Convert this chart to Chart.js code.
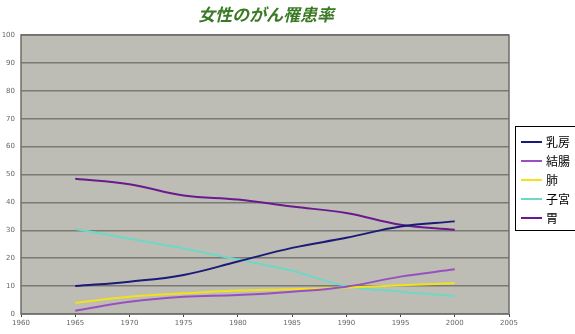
<!DOCTYPE html>
<html>
<head>
<meta charset="utf-8">
<script src="https://cdn.jsdelivr.net/npm/chart.js@4"></script>
<style>
  html, body { margin: 0; padding: 0; background: #fff; }
  #wrap { width: 575px; height: 334px; position: relative; }
</style>
</head>
<body>
<div id="wrap"><canvas id="chart"></canvas></div>
<script>
// === chart data ===
const chartTitle = '女性のがん罹患率';
const years = ['1960', '1965', '1970', '1975', '1980', '1985', '1990', '1995', '2000', '2005'];
const yTicks = [0, 10, 20, 30, 40, 50, 60, 70, 80, 90, 100];

// values per year, 1960 and 2005 have no data
const breast  = [null, 10, 11.6, 14, 18.8, 23.7, 27.3, 31.4, 33.2, null];
const colon   = [null, 1.2, 4.4, 6.2, 6.8, 8, 9.8, 13.4, 16, null];
const lung    = [null, 4, 6.2, 7.4, 8.4, 8.9, 9.5, 10.3, 11, null];
const uterus  = [null, 30.5, 27, 23.5, 19.5, 15.5, 10, 8, 6.5, null];
const stomach = [null, 48.5, 46.5, 42.5, 41, 38.5, 36.2, 32, 30.2, null];

const seriesNames = ['乳房', '結腸', '肺', '子宮', '胃'];
const seriesColors = ['#1a1a7a', '#9a4fc0', '#f2e21a', '#6ed8c4', '#6a1a8e'];
const seriesValues = [breast, colon, lung, uterus, stomach];

// --- plugins: plot background, title, legend box ---
const plotBackground = {
    id: 'plotBackground',
    beforeDraw(chart) {
        const { ctx, chartArea: a } = chart;
        ctx.save();
        ctx.fillStyle = '#bdbdb5';
        ctx.fillRect(a.left, a.top, a.right - a.left, a.bottom - a.top);
        ctx.restore();
    },
    afterDatasetsDraw(chart) {
        const { ctx, chartArea: a } = chart;
        ctx.save();
        ctx.strokeStyle = '#6e6e6a';
        ctx.lineWidth = 1.5;
        ctx.strokeRect(a.left, a.top, a.right - a.left, a.bottom - a.top);
        ctx.restore();
    }
};

const titleText = {
    id: 'titleText',
    afterDraw(chart) {
        const ctx = chart.ctx;
        ctx.save();
        ctx.font = 'italic bold 17px "Noto Sans CJK JP"';
        ctx.fillStyle = '#3a7a24';
        ctx.textAlign = 'center';
        ctx.textBaseline = 'middle';
        ctx.fillText(chartTitle, 266, 15);
        ctx.restore();
    }
};

const boxLegend = {
    id: 'boxLegend',
    afterDraw(chart) {
        const ctx = chart.ctx;
        const x0 = 515, y0 = 126, rowH = 19;
        ctx.save();
        ctx.fillStyle = '#fff';
        ctx.fillRect(x0, y0, 70, 104);
        ctx.strokeStyle = '#000';
        ctx.lineWidth = 1;
        ctx.strokeRect(x0 + 0.5, y0 + 0.5, 70, 104);
        ctx.font = '12px "Noto Sans CJK JP"';
        ctx.textBaseline = 'middle';
        chart.data.datasets.forEach((ds, i) => {
            const y = y0 + 16 + i * rowH;
            ctx.strokeStyle = ds.borderColor;
            ctx.lineWidth = 2;
            ctx.beginPath();
            ctx.moveTo(x0 + 6, y);
            ctx.lineTo(x0 + 27, y);
            ctx.stroke();
            ctx.fillStyle = '#000';
            ctx.fillText(ds.label, x0 + 31, y);
        });
        ctx.restore();
    }
};

new Chart(document.getElementById('chart'), {
    type: 'line',
    data: {
        labels: years,
        datasets: seriesNames.map((name, i) => ({
            label: name,
            data: seriesValues[i],
            borderColor: seriesColors[i],
            backgroundColor: seriesColors[i],
            borderWidth: 2,
            pointRadius: 0,
            tension: 0.4,
            fill: false
        }))
    },
    options: {
        responsive: true,
        maintainAspectRatio: false,
        animation: false,
        layout: { padding: { top: 35, right: 66, left: 0, bottom: 0 } },
        scales: {
            x: {
                offset: false,
                grid: { display: true, drawOnChartArea: false, tickLength: 3, color: '#444' },
                border: { display: false },
                ticks: {
                    color: '#666',
                    font: { size: 7, family: 'DejaVu Sans' },
                    maxRotation: 0,
                    autoSkip: false,
                    padding: 2
                },
                afterFit(scale) { scale.height = 20; }
            },
            y: {
                min: 0,
                max: 100,
                afterBuildTicks(scale) { scale.ticks = yTicks.map(v => ({ value: v })); },
                grid: { color: '#7a7a74', lineWidth: 1.5, drawTicks: false },
                border: { display: false },
                ticks: {
                    color: '#666',
                    font: { size: 7, family: 'DejaVu Sans' },
                    padding: 6
                },
                afterFit(scale) { scale.width = 21; }
            }
        },
        plugins: {
            legend: { display: false },
            title: { display: false },
            tooltip: { enabled: false }
        }
    },
    plugins: [plotBackground, titleText, boxLegend]
});
</script>
</body>
</html>
